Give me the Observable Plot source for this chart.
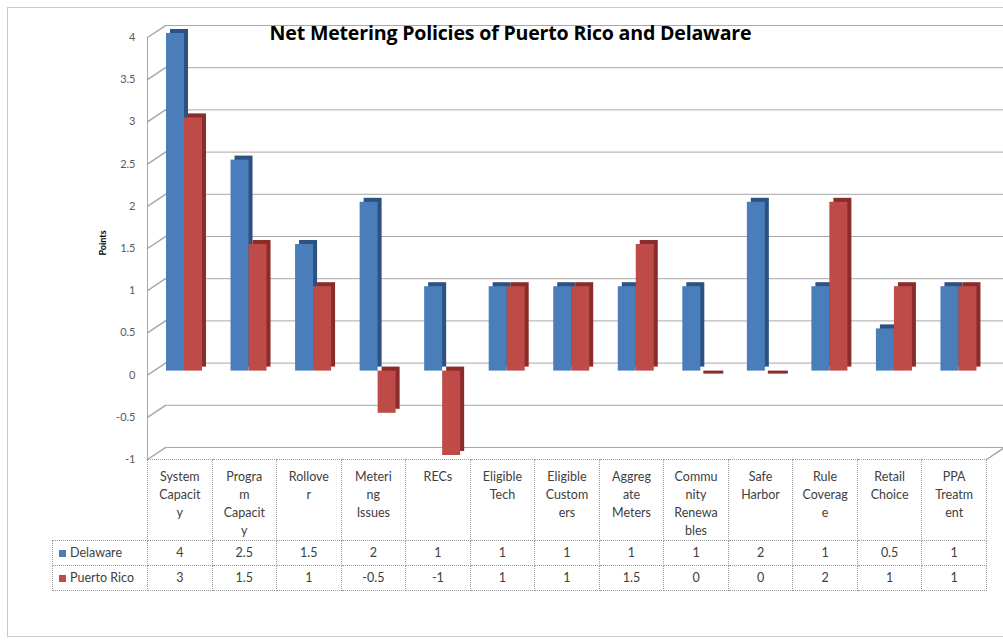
<!DOCTYPE html>
<html><head><meta charset="utf-8">
<script src="https://cdn.jsdelivr.net/npm/d3@7"></script>
<script src="https://cdn.jsdelivr.net/npm/@observablehq/plot@0.6"></script>
<style>
body{margin:0;background:#fff;font-family:Lato,"Open Sans",sans-serif;}
#wrap{position:relative;width:1003px;height:640px;overflow:hidden;background:#fff;}
#frame{position:absolute;left:7px;top:7px;width:1010px;height:628px;border:1px solid #c9c9c9;}
#title{position:absolute;left:0;width:1021px;top:19px;text-align:center;font-weight:bold;font-size:19.6px;color:#000;font-family:"Open Sans",sans-serif;letter-spacing:-0.2px}
#chart{position:absolute;left:0;top:0;}
table{position:absolute;left:52px;top:459px;border-collapse:collapse;font-size:12.5px;color:#404040;table-layout:fixed}
td{border:1px dotted #9a9a9a;text-align:center;vertical-align:top;padding:0;line-height:18px}
tr.head td{height:81px;padding-top:8px;box-sizing:border-box}
tr.data td{height:24px;vertical-align:middle;line-height:14px}
td.key{text-align:left;padding-left:6px;white-space:nowrap}
td.key span{display:inline-block;width:7px;height:7px;margin-right:4px;vertical-align:0px}
</style>
</head><body>
<div id="wrap">
  <div id="frame"></div>
  <div id="chart"></div>
  <div id="title">Net Metering Policies of Puerto Rico and Delaware</div>
</div>
<script>
const categories = ["System Capacity","Program Capacity","Rollover","Metering Issues","RECs","Eligible Tech","Eligible Customers","Aggregate Meters","Community Renewables","Safe Harbor","Rule Coverage","Retail Choice","PPA Treatment"];
const tickLabels = ["System\nCapacit\ny","Progra\nm\nCapacit\ny","Rollove\nr","Meteri\nng\nIssues","RECs","Eligible\nTech","Eligible\nCustom\ners","Aggreg\nate\nMeters","Commu\nnity\nRenewa\nbles","Safe\nHarbor","Rule\nCoverag\ne","Retail\nChoice","PPA\nTreatm\nent"];
const seriesNames = ["Delaware","Puerto Rico"];
const delaware = [4,2.5,1.5,2,1,1,1,1,1,2,1,0.5,1];
const puertoRico = [3,1.5,1,-0.5,-1,1,1,1.5,0,0,2,1,1];
const yTicks = [-1,-0.5,0,0.5,1,1.5,2,2.5,3,3.5,4];

const frontColors = {"Delaware":"#4a7ebb","Puerto Rico":"#be4b48"};
const sideColors = {"Delaware":"#2d5282","Puerto Rico":"#8a2c2a"};

const data = categories.flatMap((c,i)=>[
  {category:c, series:"Delaware", value:delaware[i]},
  {category:c, series:"Puerto Rico", value:puertoRico[i]}
]);

const W = 1003, ML = 147, MR = 17;
const step = (W-ML-MR)/categories.length;
const lineShape = {draw(ctx,l){ctx.moveTo(0,0);ctx.lineTo(0,-l);}};
const gridColor = "#a8a8a8";

function barMarks(name, left){
  const d = data.filter(r=>r.series===name);
  const inL = left, inR = step-left-18;
  return [
    Plot.barY(d,{x:"category",y:"value",fill:sideColors[name],insetLeft:inL,insetRight:inR,dx:4,dy:-8}),
    Plot.barY(d,{x:"category",y:"value",fill:frontColors[name],insetLeft:inL,insetRight:inR,dy:-4}),
    Plot.tickY(d.filter(r=>r.value===0),{x:"category",y:"value",stroke:sideColors[name],strokeWidth:3,insetLeft:inL+1,insetRight:inR-3,dx:2,dy:-3})
  ];
}

const plot = Plot.plot({
  width:W, height:470,
  marginLeft:ML, marginRight:MR, marginTop:37, marginBottom:11,
  style:{fontFamily:"Lato, 'Open Sans', sans-serif", background:"transparent"},
  x:{domain:categories, padding:0, round:false, axis:null},
  y:{domain:[-1,4], axis:null},
  marks:[
    Plot.ruleY(yTicks,{dx:18,dy:-12,stroke:gridColor}),
    Plot.vector(yTicks,{y:d=>d,frameAnchor:"left",length:21.6,rotate:56.3,anchor:"start",shape:lineShape,stroke:gridColor}),
    Plot.vector([-1],{y:d=>d,frameAnchor:"right",length:21.6,rotate:56.3,anchor:"start",shape:lineShape,stroke:gridColor}),
    Plot.link([4],{x1:()=>categories[0],x2:()=>categories[0],y1:4,y2:-1,dx:-step/2,stroke:gridColor}),
    ...barMarks("Delaware",19),
    ...barMarks("Puerto Rico",37),
    Plot.axisY(yTicks,{tickSize:0,tickPadding:12,fontSize:11,fill:"#595959",tickFormat:d=>String(d),label:null}),
    Plot.text(["Points"],{frameAnchor:"left",dx:-44,dy:7,rotate:-90,fontWeight:"bold",fontSize:9,fill:"#000"})
  ]
});
document.getElementById("chart").appendChild(plot);

// data table aligned to the x scale
const xs = plot.scale("x");
const colW = xs.step;
const table = d3.select("#wrap").append("table");
const cg = table.append("colgroup");
cg.append("col").style("width","95px");
categories.forEach(()=>cg.append("col").style("width",colW+"px"));
table.style("width",(95+colW*categories.length)+"px");
const head = table.append("tr").attr("class","head");
head.append("td").style("border-left","none").style("border-top","none");
tickLabels.forEach(t=>head.append("td").html(t.split("\n").join("<br>")));
[[seriesNames[0],delaware],[seriesNames[1],puertoRico]].forEach(([name,vals])=>{
  const tr = table.append("tr").attr("class","data");
  const k = tr.append("td").attr("class","key");
  k.append("span").style("background",frontColors[name]);
  k.append("text").text(name);
  vals.forEach(v=>tr.append("td").text(String(v)));
});
</script>
</body></html>
